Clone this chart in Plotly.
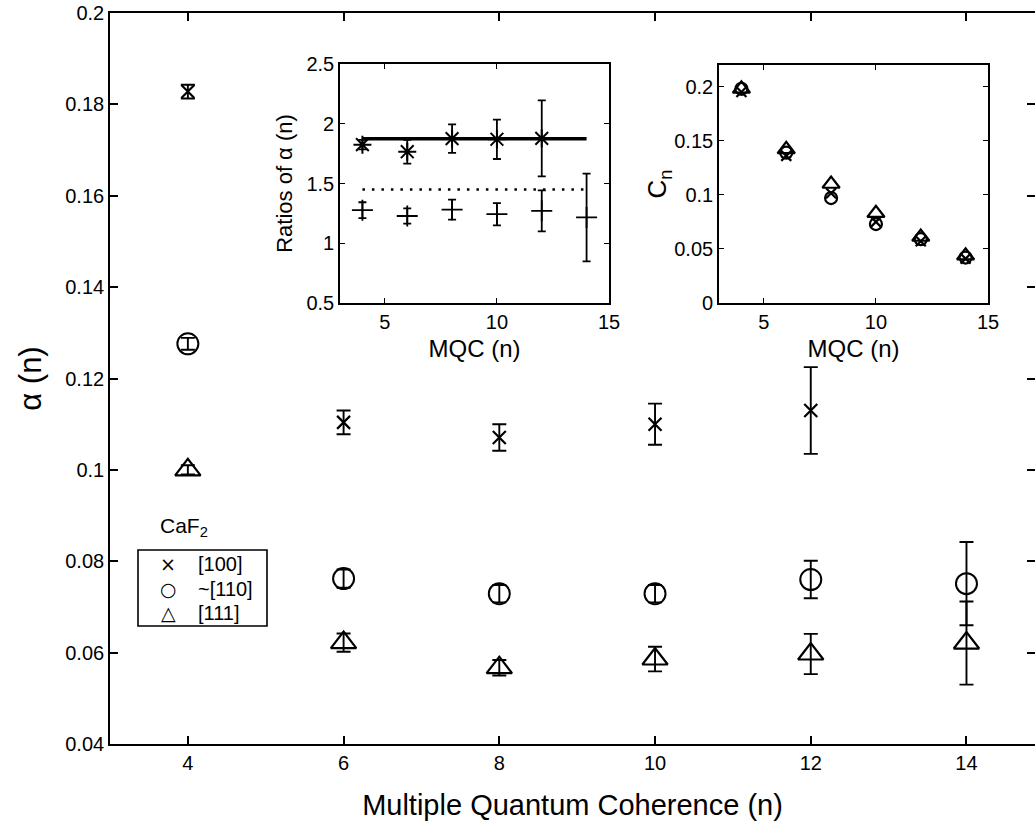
import plotly.graph_objects as go

# ---------------- data: main panel ----------------
n_100 = [4, 6, 8, 10, 12]
alpha_100 = [0.1828, 0.1104, 0.1071, 0.1100, 0.1130]
alpha_100_err = [0.0015, 0.0026, 0.0029, 0.0045, 0.0095]

n_110 = [4, 6, 8, 10, 12, 14]
alpha_110 = [0.1276, 0.0762, 0.0729, 0.0729, 0.0760, 0.0751]
alpha_110_err = [0.0013, 0.0020, 0.0019, 0.0019, 0.0041, 0.0091]

n_111 = [4, 6, 8, 10, 12, 14]
alpha_111 = [0.1000, 0.0622, 0.0567, 0.0586, 0.0597, 0.0621]
alpha_111_err = [0.0010, 0.0020, 0.0017, 0.0027, 0.0044, 0.0091]

main_xticks = [4, 6, 8, 10, 12, 14]
main_yticks = [0.04, 0.06, 0.08, 0.10, 0.12, 0.14, 0.16, 0.18, 0.20]
main_yticklabels = ["0.04", "0.06", "0.08", "0.1", "0.12", "0.14", "0.16", "0.18", "0.2"]
legend_names = ["[100]", "~[110]", "[111]"]
legend_glyphs = ["×", "○", "△"]
legend_title = "CaF<sub>2</sub>"

# ---------------- data: inset 1 (ratios) ----------------
n_ratio_upper = [4, 6, 8, 10, 12]
ratio_upper = [1.825, 1.766, 1.875, 1.870, 1.878]
ratio_upper_err = [0.04, 0.10, 0.119, 0.165, 0.318]

n_ratio_lower = [4, 6, 8, 10, 12, 14]
ratio_lower = [1.277, 1.228, 1.281, 1.243, 1.271, 1.216]
ratio_lower_err = [0.066, 0.064, 0.084, 0.093, 0.172, 0.367]

fit_n = [4, 14]
fit_upper = [1.875, 1.875]
fit_lower = [1.45, 1.45]

ratio_yticks = [0.5, 1, 1.5, 2, 2.5]
ratio_yticklabels = ["0.5", "1", "1.5", "2", "2.5"]
inset_xticks = [5, 10, 15]

# ---------------- data: inset 2 (C_n) ----------------
n_c = [4, 6, 8, 10, 12, 14]
c_100 = [0.195, 0.136, 0.1015, 0.075, 0.057, 0.041]
c_110 = [0.198, 0.139, 0.097, 0.073, 0.059, 0.042]
c_111 = [0.198, 0.142, 0.110, 0.083, 0.061, 0.0437]
c_yticks = [0, 0.05, 0.10, 0.15, 0.20]
c_yticklabels = ["0", "0.05", "0.1", "0.15", "0.2"]

FONT = "Liberation Sans, Arial, Helvetica, sans-serif"
BLACK = "black"

W, H = 1035, 829
L, R, T, B = 110, 0, 13, 85
pw, ph = W - L - R, H - T - B


def px_x(x):
    return (x - L) / pw


def px_y(y):
    return (H - B - y) / ph


def xdom(a, b):
    return [px_x(a), px_x(b)]


def ydom(top, bottom):
    return [px_y(bottom), px_y(top)]


fig = go.Figure()


def err(arr, width=7, thick=1.9):
    return dict(type="data", array=arr, visible=True, color=BLACK, thickness=thick, width=width)


# main traces
fig.add_trace(go.Scatter(
    x=n_100, y=alpha_100, mode="markers", name=legend_names[0],
    marker=dict(symbol="x-thin", size=13, color=BLACK, line=dict(width=2.2, color=BLACK)),
    error_y=err(alpha_100_err), xaxis="x", yaxis="y"))
fig.add_trace(go.Scatter(
    x=n_110, y=alpha_110, mode="markers", name=legend_names[1],
    marker=dict(symbol="circle-open", size=21, color=BLACK, line=dict(width=2, color=BLACK)),
    error_y=err(alpha_110_err), xaxis="x", yaxis="y"))
fig.add_trace(go.Scatter(
    x=n_111, y=alpha_111, mode="markers", name=legend_names[2],
    marker=dict(symbol="triangle-up-open", size=22, color=BLACK, line=dict(width=2.2, color=BLACK)),
    error_y=err(alpha_111_err), xaxis="x", yaxis="y"))

# inset 1
fig.add_trace(go.Scatter(
    x=fit_n, y=fit_upper, mode="lines", line=dict(color=BLACK, width=3.5),
    xaxis="x2", yaxis="y2"))
fig.add_trace(go.Scatter(
    x=fit_n, y=fit_lower, mode="lines", line=dict(color=BLACK, width=2.5, dash="2.5px,7px"),
    xaxis="x2", yaxis="y2"))
fig.add_trace(go.Scatter(
    x=n_ratio_upper, y=ratio_upper, mode="markers",
    marker=dict(symbol="asterisk-open", size=15, color=BLACK, line=dict(width=2, color=BLACK)),
    error_y=err(ratio_upper_err, width=4, thick=1.8),
    xaxis="x2", yaxis="y2"))
fig.add_trace(go.Scatter(
    x=n_ratio_lower, y=ratio_lower, mode="markers",
    marker=dict(symbol="cross-thin-open", size=15, color=BLACK, line=dict(width=1.8, color=BLACK)),
    error_y=err(ratio_lower_err, width=4, thick=1.8),
    xaxis="x2", yaxis="y2"))

# inset 2
fig.add_trace(go.Scatter(
    x=n_c, y=c_100, mode="markers",
    marker=dict(symbol="x-thin", size=10, color=BLACK, line=dict(width=2.2, color=BLACK)),
    xaxis="x3", yaxis="y3"))
fig.add_trace(go.Scatter(
    x=n_c, y=c_110, mode="markers",
    marker=dict(symbol="circle-open", size=12, color=BLACK, line=dict(width=2.2, color=BLACK)),
    xaxis="x3", yaxis="y3"))
fig.add_trace(go.Scatter(
    x=n_c, y=c_111, mode="markers",
    marker=dict(symbol="triangle-up-open", size=15, color=BLACK, line=dict(width=2.2, color=BLACK)),
    xaxis="x3", yaxis="y3"))

axis_common = dict(showgrid=False, zeroline=False, showline=True, linecolor=BLACK,
                   mirror="ticks", ticks="inside", tickcolor=BLACK)

# manual legend (box, key glyphs and labels)
legend_rows_y = [564, 589, 613]
annotations = [dict(text=legend_title, x=px_x(184), y=px_y(542), xref="paper", yref="paper",
                    xanchor="center", yanchor="bottom", showarrow=False,
                    font=dict(size=21, family=FONT))]
for glyph, name, ry in zip(legend_glyphs, legend_names, legend_rows_y):
    annotations.append(dict(text=glyph, x=px_x(168), y=px_y(ry), xref="paper", yref="paper",
                            xanchor="center", yanchor="middle", showarrow=False,
                            font=dict(size=19, family="DejaVu Sans")))
    annotations.append(dict(text=name, x=px_x(196), y=px_y(ry), xref="paper", yref="paper",
                            xanchor="left", yanchor="middle", showarrow=False,
                            font=dict(size=20, family=FONT)))

shapes = [dict(type="rect", xref="paper", yref="paper", x0=px_x(138), x1=px_x(267),
               y0=px_y(626), y1=px_y(550), line=dict(color=BLACK, width=1.6),
               fillcolor="white", layer="below")]

fig.update_layout(
    width=W, height=H,
    margin=dict(l=L, r=R, t=T, b=B, autoexpand=False),
    paper_bgcolor="white", plot_bgcolor="white",
    font=dict(family=FONT, color=BLACK),
    showlegend=False,
    xaxis=dict(**axis_common, domain=[0, 1], range=[3, 14.88], tickvals=main_xticks,
               ticklen=8, linewidth=1.6, tickwidth=1.6, tickfont=dict(size=20),
               title=dict(text="Multiple Quantum Coherence (n)", font=dict(size=29), standoff=22),
               anchor="y"),
    yaxis=dict(**axis_common, domain=[0, 1], range=[0.04, 0.2], tickvals=main_yticks,
               ticktext=main_yticklabels, ticklen=8, linewidth=1.6, tickwidth=1.6,
               tickfont=dict(size=20),
               title=dict(text="α (n)", font=dict(size=31), standoff=14),
               anchor="x"),
    xaxis2=dict(**axis_common, domain=xdom(340, 609), range=[3, 15], tickvals=inset_xticks,
                ticklen=5, linewidth=1.6, tickwidth=1.2, tickfont=dict(size=20),
                title=dict(text="MQC (n)", font=dict(size=24), standoff=8), anchor="y2"),
    yaxis2=dict(**axis_common, domain=ydom(64, 303), range=[0.5, 2.5], tickvals=ratio_yticks,
                ticktext=ratio_yticklabels, ticklen=5, linewidth=1.6, tickwidth=1.2,
                tickfont=dict(size=20),
                title=dict(text="Ratios of α (n)", font=dict(size=22), standoff=8), anchor="x2"),
    xaxis3=dict(**axis_common, domain=xdom(719, 988), range=[3, 15], tickvals=inset_xticks,
                ticklen=5, linewidth=1.6, tickwidth=1.2, tickfont=dict(size=20),
                title=dict(text="MQC (n)", font=dict(size=24), standoff=8), anchor="y3"),
    yaxis3=dict(**axis_common, domain=ydom(65, 303), range=[0, 0.22], tickvals=c_yticks,
                ticktext=c_yticklabels, ticklen=5, linewidth=1.6, tickwidth=1.2,
                tickfont=dict(size=20),
                title=dict(text="C<sub>n</sub>", font=dict(size=26), standoff=0), anchor="x3"),
    annotations=annotations,
    shapes=shapes,
)

fig.write_html("out.html")
